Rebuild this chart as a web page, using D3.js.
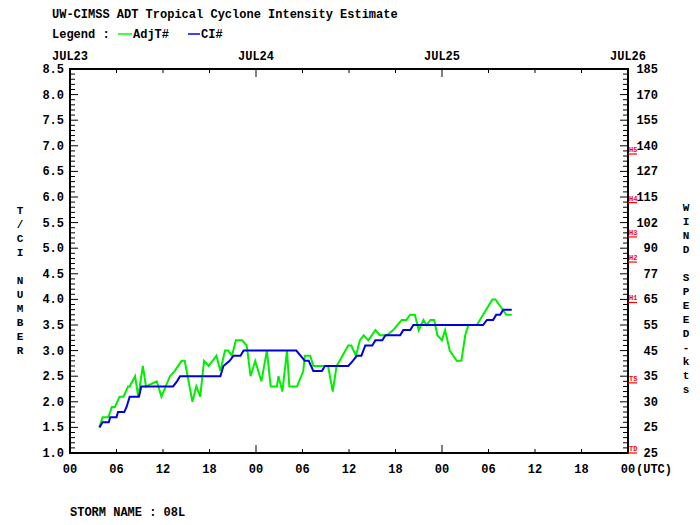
<!DOCTYPE html>
<html><head><meta charset="utf-8">
<script src="https://cdn.jsdelivr.net/npm/d3@7"></script>
<style>
body{margin:0;background:#fff;}
text{font-family:"Liberation Mono","DejaVu Sans Mono",monospace;font-weight:bold;font-size:12px;fill:#000;}
</style></head><body>
<svg id="chart" width="700" height="525"></svg>
<script>
// hours since JUL23 00 UTC, and intensity values
const adjtHours = [3.8,4.2,4.95,5.4,5.8,6.4,6.9,7.5,7.7,8.4,8.8,9.4,9.8,11.2,11.8,12.9,13.5,14.4,14.8,15.8,16.3,16.8,17.3,17.9,18.9,19.4,20.0,20.4,20.9,21.4,22.2,22.8,23.3,23.9,24.7,25.4,25.9,26.7,26.9,27.4,28.0,28.3,29.3,30.1,30.3,31.0,31.4,32.2,33.3,33.9,34.4,34.8,35.9,36.3,36.9,37.4,37.9,38.5,39.4,40.0,40.9,41.7,42.8,43.4,43.9,44.5,45.0,45.6,46.0,46.5,47.0,47.4,48.0,48.4,49.0,49.9,50.5,51.0,51.4,52.5,53.3,54.5,54.9,56.3,57.0];
const adjtValues = [1.5,1.7,1.7,1.9,1.9,2.1,2.1,2.3,2.3,2.5,2.1,2.7,2.3,2.4,2.1,2.5,2.6,2.8,2.8,2.0,2.3,2.1,2.8,2.7,2.9,2.6,3.0,3.0,2.9,3.2,3.2,3.1,2.5,2.8,2.4,3.0,2.3,2.3,2.5,2.2,3.0,2.3,2.3,2.6,2.9,2.9,2.7,2.7,2.7,2.2,2.7,2.8,3.1,3.1,2.9,3.2,3.3,3.2,3.4,3.3,3.3,3.4,3.6,3.6,3.7,3.7,3.4,3.6,3.5,3.6,3.6,3.3,3.2,3.4,3.0,2.8,2.8,3.3,3.5,3.5,3.7,4.0,4.0,3.7,3.7];
const ciHours = [3.8,4.2,5.0,5.2,6.0,6.2,7.0,7.3,7.7,8.9,9.2,13.3,13.8,14.2,19.4,19.8,20.6,21.1,22.0,22.4,29.2,30.3,30.8,31.4,32.5,32.9,35.9,36.5,37.0,37.6,38.1,39.0,39.4,40.3,40.7,42.6,43.0,43.9,44.3,53.3,53.8,54.6,55.0,55.5,55.9,57.0];
const ciValues = [1.5,1.6,1.6,1.7,1.7,1.8,1.8,1.9,2.1,2.1,2.3,2.3,2.4,2.5,2.5,2.7,2.8,2.9,2.9,3.0,3.0,2.8,2.8,2.6,2.6,2.7,2.7,2.8,2.9,2.9,3.1,3.1,3.2,3.2,3.3,3.3,3.4,3.4,3.5,3.5,3.6,3.6,3.7,3.7,3.8,3.8];

const leftTicks = [8.5,8.0,7.5,7.0,6.5,6.0,5.5,5.0,4.5,4.0,3.5,3.0,2.5,2.0,1.5,1.0];
const windLabels = ["185","170","155","140","127","115","102","90","77","65","55","45","35","30","25","25"];
const catNames = ["H5","H4","H3","H2","H1","TS","TD"];
const catValues = [6.84,5.89,5.22,4.73,3.94,2.37,1.0];
const dayLabels = ["JUL23","JUL24","JUL25","JUL26"];
const hourLabels = ["00","06","12","18","00","06","12","18","00","06","12","18","00"];

const svg = d3.select("#chart");
const L = 70, R = 628, T = 69, B = 453;
const x = d3.scaleLinear().domain([0,72]).range([L,R]);
const y = d3.scaleLinear().domain([1,8.5]).range([B,T]);

svg.append("text").attr("x",52).attr("y",18).text("UW-CIMSS ADT Tropical Cyclone Intensity Estimate");
svg.append("text").attr("x",52).attr("y",38).text("Legend :");
svg.append("line").attr("x1",118).attr("x2",132).attr("y1",34).attr("y2",34).attr("stroke","#00ff00").attr("stroke-width",1.5);
svg.append("text").attr("x",133).attr("y",38).text("AdjT#");
svg.append("line").attr("x1",188).attr("x2",200).attr("y1",34).attr("y2",34).attr("stroke","#0000ff").attr("stroke-width",1.5);
svg.append("text").attr("x",201).attr("y",38).text("CI#");

// frame
svg.append("rect").attr("x",L).attr("y",T).attr("width",R-L).attr("height",B-T)
  .attr("fill","none").attr("stroke","#000").attr("stroke-width",2);

// y minor/major ticks, both sides
const yt = d3.range(10,86).map(d=>d/10);
yt.forEach(v=>{
  const major = Math.abs(v*2-Math.round(v*2))<1e-6;
  const len = major?8:5;
  svg.append("line").attr("x1",L).attr("x2",L+len).attr("y1",y(v)).attr("y2",y(v)).attr("stroke","#000");
  svg.append("line").attr("x1",R).attr("x2",R-len).attr("y1",y(v)).attr("y2",y(v)).attr("stroke","#000");
});
leftTicks.forEach((v,i)=>{
  svg.append("text").attr("x",L-6).attr("y",y(v)+4).attr("text-anchor","end").text(v.toFixed(1));
  svg.append("text").attr("x",R+30).attr("y",y(v)+4).attr("text-anchor","end").text(windLabels[i]);
});

// x ticks
d3.range(0,73,6).forEach((h,i)=>{
  const day = h%24===0;
  const len = day?8:4;
  svg.append("line").attr("x1",x(h)).attr("x2",x(h)).attr("y1",B).attr("y2",B-len).attr("stroke","#000");
  svg.append("line").attr("x1",x(h)).attr("x2",x(h)).attr("y1",T).attr("y2",T+len).attr("stroke","#000");
  svg.append("text").attr("x",x(h)).attr("y",B+20).attr("text-anchor","middle").text(hourLabels[i]);
});
svg.append("text").attr("x",x(72)+8).attr("y",B+20).text("(UTC)");
dayLabels.forEach((d,i)=>{
  svg.append("text").attr("x",x(i*24)).attr("y",T-9).attr("text-anchor","middle").text(d);
});

// category markers
catNames.forEach((c,i)=>{
  svg.append("line").attr("x1",R).attr("x2",R+9).attr("y1",y(catValues[i])).attr("y2",y(catValues[i])).attr("stroke","#ff0000").attr("stroke-width",1.2);
  svg.append("text").attr("x",R+1).attr("y",y(catValues[i])-2).style("font-size","7px").style("fill","#ff0000").text(c);
});

// axis titles, stacked letters
function stacked(str,cx,cy,step){
  const chars = str.split("");
  const y0 = cy - (chars.length-1)*step/2;
  chars.forEach((ch,i)=>svg.append("text").attr("x",cx).attr("y",y0+i*step+4).attr("text-anchor","middle").style("font-size","11px").text(ch));
}
stacked("T/CI NUMBER",20,280,14);
stacked("WIND SPEED-kts",686,298,14);

const line = d3.line().x(d=>x(d[0])).y(d=>y(d[1]));
svg.append("path").datum(d3.zip(adjtHours,adjtValues)).attr("d",line)
  .attr("fill","none").attr("stroke","#00ee00").attr("stroke-width",2);
svg.append("path").datum(d3.zip(ciHours,ciValues)).attr("d",line)
  .attr("fill","none").attr("stroke","#0000dd").attr("stroke-width",2);

svg.append("text").attr("x",70).attr("y",516).text("STORM NAME : 08L");
</script></body></html>
